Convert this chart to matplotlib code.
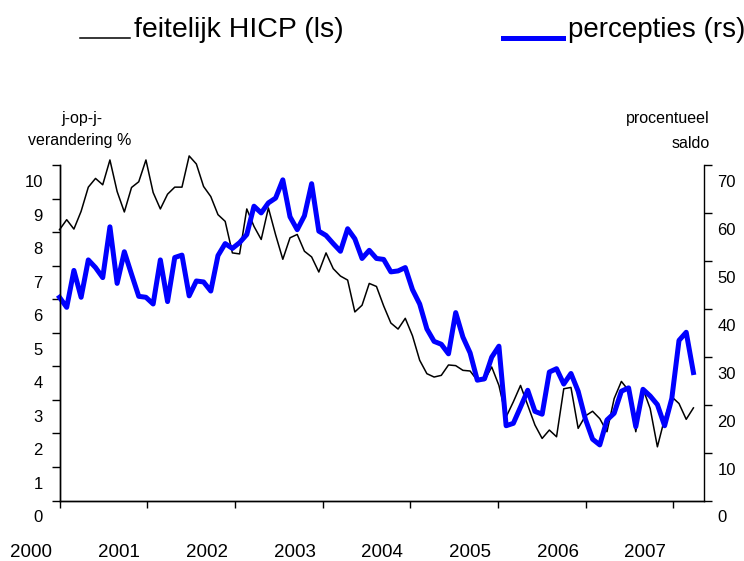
import numpy as np
import matplotlib
matplotlib.use('Agg')
import matplotlib.pyplot as plt
from matplotlib.lines import Line2D
from matplotlib.transforms import ScaledTranslation

# maandelijkse waarden, jan 2000 - mei 2007
hicp = [8.07, 8.37, 8.09, 8.62, 9.34, 9.6, 9.41, 10.15, 9.21, 8.6,
        9.33, 9.5, 10.15, 9.18, 8.69, 9.13, 9.34, 9.34, 10.27, 10.03,
        9.36, 9.06, 8.52, 8.32, 7.38, 7.35, 8.69, 8.17, 7.78, 8.72,
        7.92, 7.19, 7.83, 7.93, 7.43, 7.26, 6.81, 7.38, 6.91, 6.69,
        6.57, 5.62, 5.82, 6.47, 6.38, 5.8, 5.29, 5.11, 5.43, 4.91,
        4.18, 3.78, 3.68, 3.73, 4.04, 4.02, 3.88, 3.86, 3.58, 3.58,
        3.98, 3.43, 2.49, 2.94, 3.43, 2.84, 2.25, 1.85, 2.1, 1.9,
        3.33, 3.37, 2.15, 2.52, 2.66, 2.44, 2.05, 3.04, 3.55, 3.28,
        2.05, 3.33, 2.74, 1.6, 2.44, 3.09, 2.89, 2.42, 2.76]

percepties = [42.4, 40.3, 48.0, 42.4, 50.2, 48.6, 46.5, 57.1, 45.3, 51.9,
              47.2, 42.6, 42.4, 41.0, 50.2, 41.5, 50.7, 51.2, 42.7, 45.8,
              45.6, 43.7, 51.1, 53.6, 52.6, 53.8, 55.5, 61.4, 60.0, 62.1,
              63.1, 66.9, 59.2, 56.5, 59.4, 66.1, 56.2, 55.3, 53.6, 52.0,
              56.7, 54.6, 50.5, 52.2, 50.5, 50.3, 47.7, 47.9, 48.6, 44.0,
              41.0, 35.8, 33.2, 32.6, 30.6, 39.2, 34.1, 30.8, 25.1, 25.4,
              29.9, 32.2, 15.6, 16.1, 19.5, 23.0, 18.6, 18.0, 26.8, 27.5,
              24.3, 26.5, 22.8, 17.0, 12.8, 11.6, 16.8, 18.2, 22.8, 23.5,
              15.4, 23.2, 21.8, 20.0, 15.6, 21.3, 33.4, 35.1, 26.7]

jaren = ['2000', '2001', '2002', '2003', '2004', '2005', '2006', '2007']
links_ticks = list(range(0, 11))
rechts_ticks = list(range(0, 71, 10))

plt.rcParams['font.family'] = ['Liberation Sans', 'DejaVu Sans']

W, H = 744, 561
fig = plt.figure(figsize=(W / 100, H / 100), dpi=100)
ax = fig.add_axes([59.5 / W, 1 - 500.5 / H, 644 / W, 335.5 / H])
ax2 = ax.twinx()

x = np.arange(len(hicp))
ax.plot(x, hicp, color='black', lw=1.1, clip_on=False)
ax2.plot(x, percepties, color='#0000ff', lw=3.6, clip_on=False)

# jaarstreepjes staan in het origineel net niet op elke 12e maand
stap = 12.17
ax.set_xlim(0, 89.4)
ax.set_xticks(np.arange(len(jaren)) * stap)
ax.set_xticklabels(jaren)
ax.set_ylim(0, 10)
ax.set_yticks(links_ticks)
ax2.set_ylim(0, 70)
ax2.set_yticks(rechts_ticks)

for a in (ax, ax2):
    a.spines['top'].set_visible(False)
    for s in a.spines.values():
        s.set_linewidth(1.0)
ax.spines['right'].set_visible(False)

ax.tick_params(axis='y', direction='out', length=6, width=1, labelsize=12, pad=6)
ax2.tick_params(axis='y', direction='out', length=6, width=1, labelsize=12, pad=4)
ax.tick_params(axis='x', direction='out', length=5, width=1, labelsize=13.5, pad=26)

# labels zitten verschoven t.o.v. de streepjes
omlaag = ScaledTranslation(0, -0.16, fig.dpi_scale_trans)
for lab in ax.get_yticklabels() + ax2.get_yticklabels():
    lab.set_transform(lab.get_transform() + omlaag)
links = ScaledTranslation(-0.28, 0, fig.dpi_scale_trans)
for lab in ax.get_xticklabels():
    lab.set_transform(lab.get_transform() + links)

# aslabels
fig.text(82 / W, 1 - 118 / H, 'j-op-j-', ha='center', va='center', fontsize=11.5)
fig.text(80 / W, 1 - 140 / H, 'verandering %', ha='center', va='center', fontsize=11.5)
fig.text(710 / W, 1 - 118 / H, 'procentueel', ha='right', va='center', fontsize=11.5)
fig.text(710 / W, 1 - 144 / H, 'saldo', ha='right', va='center', fontsize=11.5)

# legenda bovenaan
fig.add_artist(Line2D([80 / W, 130 / W], [1 - 38 / H] * 2, color='black', lw=1.1))
fig.text(134 / W, 1 - 37 / H, 'feitelijk HICP (ls)', ha='left', va='baseline', fontsize=20.5)
fig.add_artist(Line2D([503 / W, 563 / W], [1 - 38 / H] * 2, color='#0000ff', lw=3.6))
fig.text(568 / W, 1 - 37 / H, 'percepties (rs)', ha='left', va='baseline', fontsize=20)

fig.savefig('out.png', dpi=100)
